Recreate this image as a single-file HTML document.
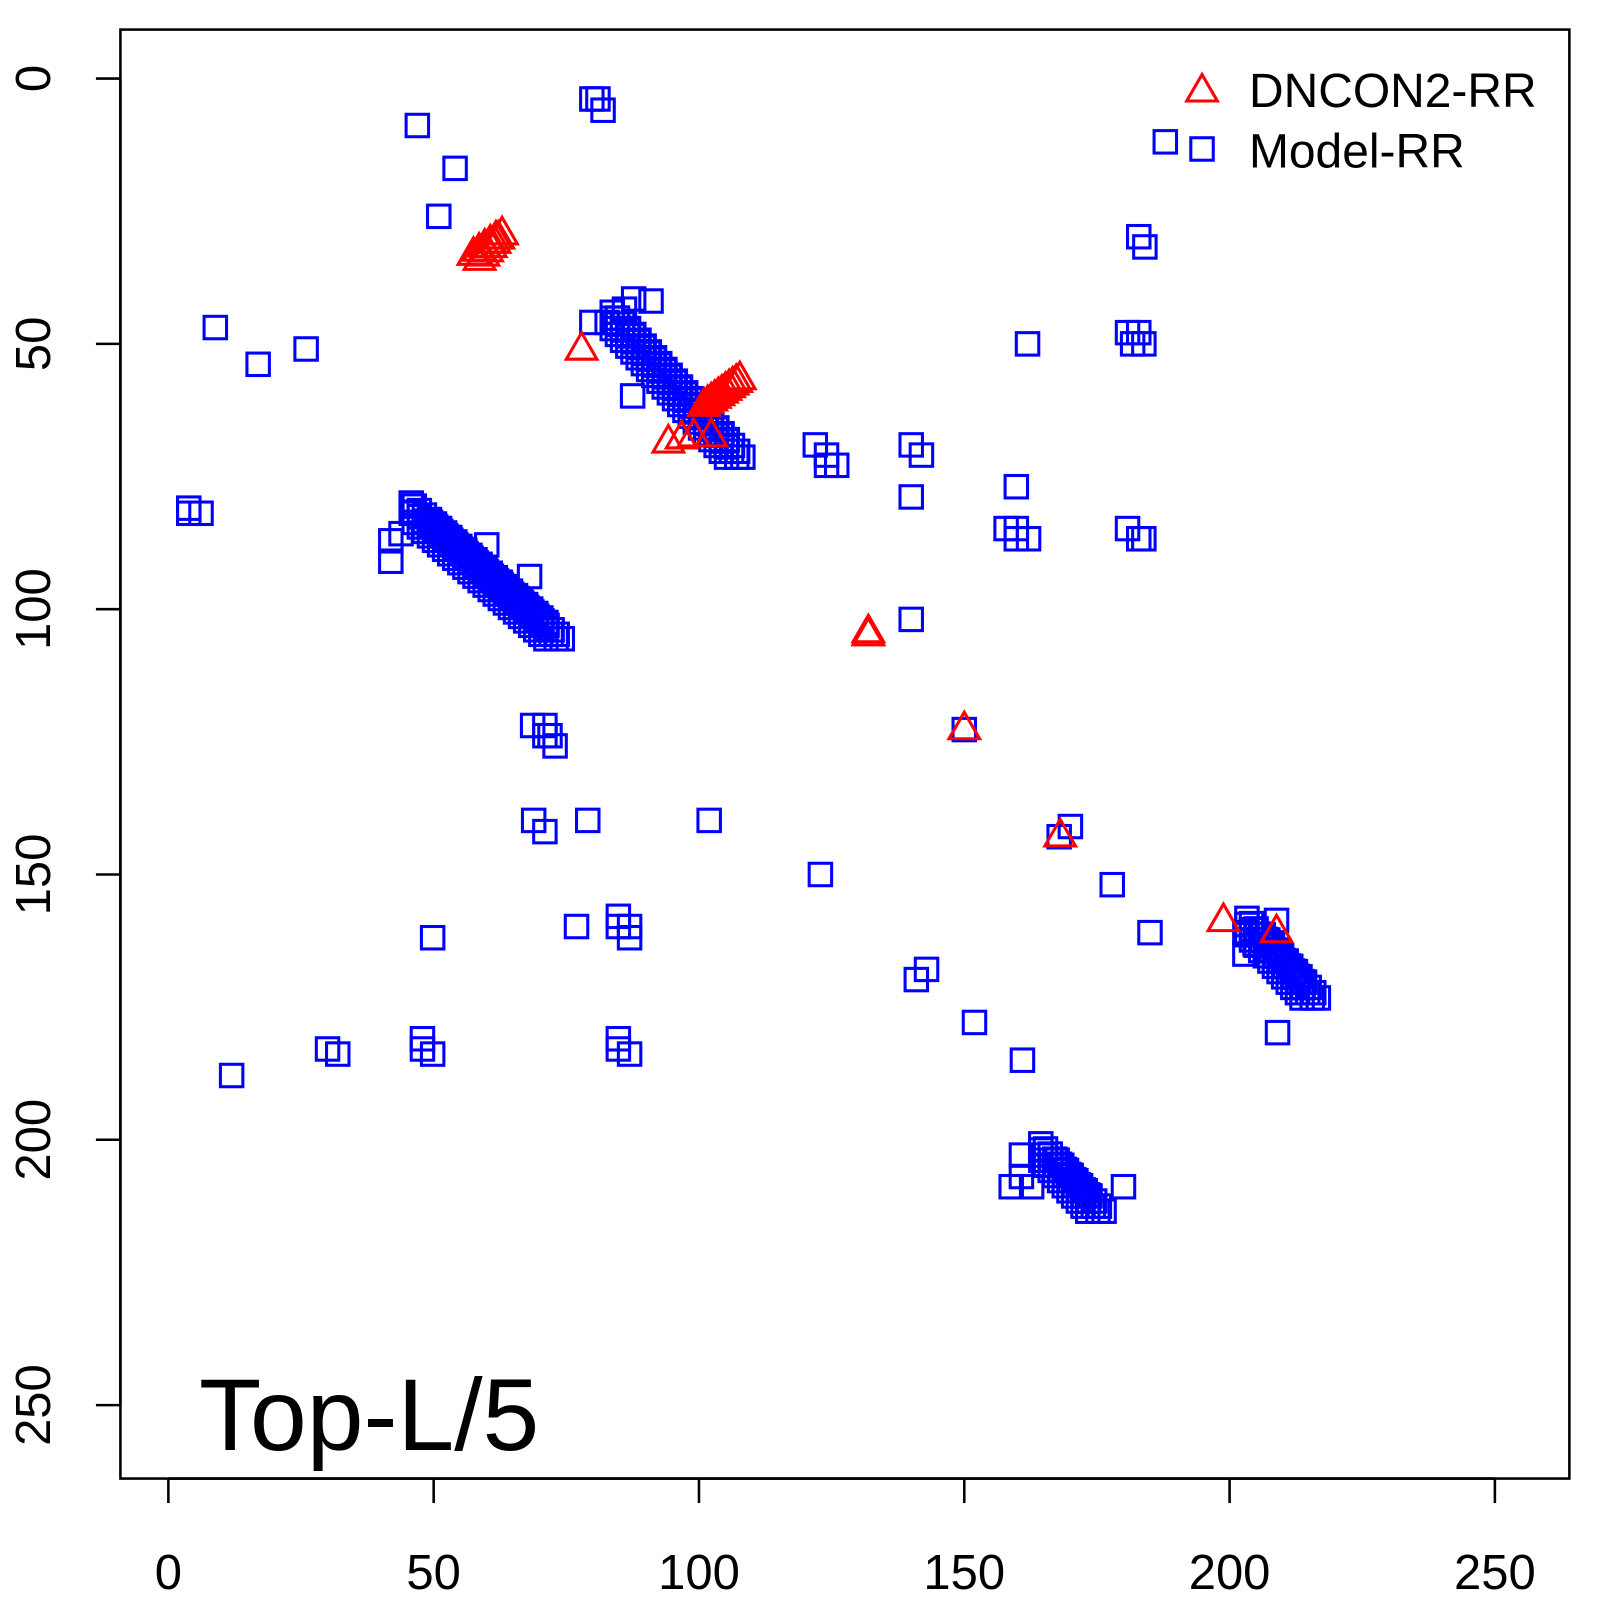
<!DOCTYPE html>
<html><head><meta charset="utf-8"><style>
html,body{margin:0;padding:0;background:#fff;}
svg{display:block;font-family:"Liberation Sans",sans-serif;}
</style></head><body>
<svg id="s" width="1600" height="1600" viewBox="0 0 1600 1600" xmlns="http://www.w3.org/2000/svg">
<g transform="scale(1.0204)">
<rect x="118" y="29" width="1420" height="1420" fill="none" stroke="#000" stroke-width="2.5"/>
<g stroke="#000" stroke-width="2.5">
<line x1="165" y1="1449" x2="1465" y2="1449"/>
<line x1="165" y1="1449" x2="165" y2="1473"/><line x1="425" y1="1449" x2="425" y2="1473"/><line x1="685" y1="1449" x2="685" y2="1473"/><line x1="945" y1="1449" x2="945" y2="1473"/><line x1="1205" y1="1449" x2="1205" y2="1473"/><line x1="1465" y1="1449" x2="1465" y2="1473"/>
<line x1="118" y1="77" x2="118" y2="1377"/>
<line x1="94" y1="77" x2="118" y2="77"/><line x1="94" y1="337" x2="118" y2="337"/><line x1="94" y1="597" x2="118" y2="597"/><line x1="94" y1="857" x2="118" y2="857"/><line x1="94" y1="1117" x2="118" y2="1117"/><line x1="94" y1="1377" x2="118" y2="1377"/>
</g>
<g font-size="48" text-anchor="middle" fill="#000">
<text x="165" y="1557">0</text><text x="425" y="1557">50</text><text x="685" y="1557">100</text><text x="945" y="1557">150</text><text x="1205" y="1557">200</text><text x="1465" y="1557">250</text>
<text transform="translate(49,77) rotate(-90)">0</text>
<text transform="translate(49,337) rotate(-90)">50</text>
<text transform="translate(49,597) rotate(-90)">100</text>
<text transform="translate(49,857) rotate(-90)">150</text>
<text transform="translate(49,1117) rotate(-90)">200</text>
<text transform="translate(49,1377) rotate(-90)">250</text>
</g>
<g id="sq" fill="none" stroke="#0000ff" stroke-width="3"></g>
<g id="tr" fill="none" stroke="#ff0000" stroke-width="3"></g>
<text x="1224" y="105" font-size="47">DNCON2-RR</text>
<text x="1224" y="164" font-size="47">Model-RR</text>
<text x="195" y="1421" font-size="100">Top-L/5</text>
</g>
</svg>
<script>
var sq=document.getElementById('sq'),tr=document.getElementById('tr'),NS='http://www.w3.org/2000/svg';
function S(x,y){var r=document.createElementNS(NS,'rect');r.setAttribute('x',x-11);r.setAttribute('y',y-11);r.setAttribute('width',22);r.setAttribute('height',22);sq.appendChild(r);}
function T(x,y){var p=document.createElementNS(NS,'polygon');p.setAttribute('points',(x)+','+(y-17)+' '+(x-15)+','+(y+9)+' '+(x+15)+','+(y+9));tr.appendChild(p);}
function chain(x1,y1,x2,y2,n,f,w){for(var i=0;i<=n;i++){var x=x1+(x2-x1)*i/n,y=y1+(y2-y1)*i/n;f(x,y);if(w){f(x+w,y);f(x,y-w);f(x+w*1.6,y);f(x,y-w*1.6);}}}
var pts=[[409,123],[446,165],[430,212],[211,321],[253,357],[300,342],[185,498],[197,503],[185,503],[586,97],[591,108],[580,97],[1142,139],[1116,232],[1122,242],[1007,337],[1105,326],[1116,326],[1110,337],[1121,337],[799,436],[810,446],[820,456],[810,456],[893,436],[903,446],[893,487],[996,477],[986,518],[996,528],[1008,528],[996,518],[1105,518],[1116,528],[1121,528],[893,607],[383,530],[383,550],[393,523],[477,534],[519,565],[522,711],[534,711],[539,721],[544,731],[534,721],[523,804],[534,815],[576,804],[695,804],[945,715],[1038,820],[1049,810],[804,857],[1090,867],[1127,914],[565,908],[606,898],[617,908],[617,919],[606,908],[424,919],[898,960],[908,950],[955,1002],[1002,1039],[1252,1012],[227,1054],[321,1028],[331,1033],[414,1018],[414,1028],[424,1033],[606,1018],[606,1028],[617,1033],[1101,1163],[991,1163],[1001,1132],[1001,1153],[580,316],[595,316],[620,388],[638,295],[621,293],[612,303],[403,493],[403,503],[1251,902],[1220,914],[1220,935],[1230,925],[1011,1163]];
pts.forEach(function(p){S(p[0],p[1]);});
chain(600,322,712,448,22,S,10);
chain(406,512,535,626,26,S,10);
chain(1222,916,1276,978,12,S,10);
chain(1020,1137,1066,1187,10,S,10);
chain(470,255,492,230,6,T,0);
chain(464,250,486,234,4,T,0);
T(570,343);T(655,434);T(668,430);T(680,428);T(697,428);
chain(690,398,725,372,10,T,0);
T(851,620);T(851,623);T(945,715);T(1039,820);T(1199,903);T(1251,914);
T(1178,90);S(1178,146);
</script>
</body></html>
